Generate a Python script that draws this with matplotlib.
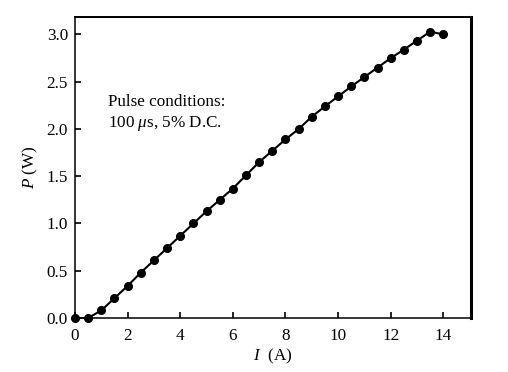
import numpy as np
import matplotlib
matplotlib.use("Agg")
import matplotlib.pyplot as plt

# current (A) and output power (W)
current = [0.0, 0.5, 1.0, 1.5, 2.0, 2.5, 3.0, 3.5, 4.0, 4.5, 5.0, 5.5, 6.0, 6.5,
           7.0, 7.5, 8.0, 8.5, 9.0, 9.5, 10.0, 10.5, 11.0, 11.5, 12.0, 12.5,
           13.0, 13.5, 14.0]
power = [0.0, 0.0, 0.08, 0.21, 0.34, 0.48, 0.61, 0.74, 0.87, 1.0, 1.13, 1.25,
         1.37, 1.51, 1.65, 1.77, 1.89, 2.0, 2.13, 2.24, 2.345, 2.45, 2.55, 2.65,
         2.75, 2.84, 2.935, 3.03, 3.0]
xticks = [0, 2, 4, 6, 8, 10, 12, 14]
yticks = [0.0, 0.5, 1.0, 1.5, 2.0, 2.5, 3.0]

plt.rcParams['font.family'] = ['Liberation Serif', 'DejaVu Serif']
plt.rcParams['mathtext.fontset'] = 'custom'
plt.rcParams['mathtext.rm'] = 'Liberation Serif'
plt.rcParams['mathtext.it'] = 'Liberation Serif:italic'

fs = 12.3
fig = plt.figure(figsize=(5.08, 3.72), dpi=100)
ax = fig.add_axes([75 / 508, 1 - 318 / 372, (471 - 75) / 508, (318 - 17) / 372])

ax.plot(current, power, color='black', lw=1.5, marker='o', ms=5.5, clip_on=False, zorder=3)

ax.set_xlim(0, 15.05)
ax.set_ylim(0, 3.185)
ax.set_xticks(xticks)
ax.set_xticklabels([str(t) for t in xticks])
ax.set_yticks(yticks)
ax.set_yticklabels(["%.1f" % t for t in yticks])
ax.tick_params(direction='in', length=4, width=1.2, labelsize=fs, pad=5,
               top=False, right=False)
ax.tick_params(axis='x', pad=7)

ax.spines['left'].set_linewidth(1.1)
ax.spines['bottom'].set_linewidth(1.1)
ax.spines['top'].set_linewidth(1.4)
ax.spines['right'].set_linewidth(2.2)

ax.set_xlabel(r"$I$  (A)", fontsize=fs, labelpad=2)
ax.set_ylabel(r"$P$ (W)", fontsize=fs, labelpad=5)

ax.text(0.083, 0.68, "Pulse conditions:\n100 $\\mu$s, 5% D.C.", transform=ax.transAxes,
        fontsize=fs, va='center', ha='left', linespacing=1.35)

fig.savefig("out.png", dpi=100)
